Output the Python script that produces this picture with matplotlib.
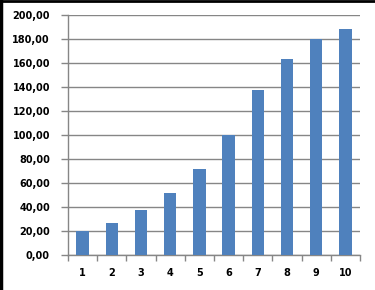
import matplotlib
matplotlib.use("Agg")
import matplotlib.pyplot as plt
from matplotlib.lines import Line2D
from matplotlib.ticker import FixedLocator, FuncFormatter

# values
categories = [1, 2, 3, 4, 5, 6, 7, 8, 9, 10]
values = [20, 27, 37.5, 52, 72, 100, 137.5, 163.5, 180, 188]
y_ticks = [0, 20, 40, 60, 80, 100, 120, 140, 160, 180, 200]

fig = plt.figure(figsize=(3.75, 2.9), dpi=100)
ax = fig.add_axes([68 / 375, 1 - 255 / 290, 292 / 375, 240 / 290])

grid_col = "#868686"
ax.bar(categories, values, width=0.42, color="#4F81BD", zorder=3)

ax.set_xlim(0.5, 10.5)
ax.set_ylim(0, 200)
ax.set_yticks(y_ticks)
ax.yaxis.set_major_formatter(FuncFormatter(lambda v, p: f"{v:.2f}".replace(".", ",")))
ax.yaxis.grid(True, color=grid_col, linewidth=1, zorder=0)

# x: labels at centres, tick marks between categories
ax.set_xticks(categories)
ax.xaxis.set_minor_locator(FixedLocator([c + 0.5 for c in [0] + categories]))
ax.tick_params(axis="x", which="major", length=0, pad=9)
ax.tick_params(axis="x", which="minor", length=4, color=grid_col, width=1)
ax.tick_params(axis="y", length=5, color=grid_col, width=1, pad=8)

for lab in ax.get_xticklabels() + ax.get_yticklabels():
    lab.set_fontsize(7)
    lab.set_fontweight("bold")

for s in ["top", "right"]:
    ax.spines[s].set_visible(False)
for s in ["left", "bottom"]:
    ax.spines[s].set_color(grid_col)
    ax.spines[s].set_linewidth(1)

# black frame edge on left and top of the picture
fig.add_artist(Line2D([0.003, 0.003], [0, 1], color="black", linewidth=2.5))
fig.add_artist(Line2D([0, 1], [0.997, 0.997], color="black", linewidth=2))

fig.savefig("out.png", dpi=100)
